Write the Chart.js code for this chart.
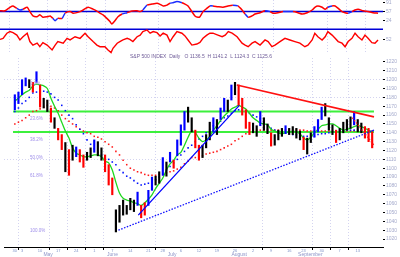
<!DOCTYPE html>
<html>
<head>
<meta charset="utf-8">
<script src="https://cdn.jsdelivr.net/npm/chart.js@4.4.0/dist/chart.umd.min.js"></script>
<style>
  html, body { margin:0; padding:0; background:#fff; overflow:hidden; }
  #wrap { position:relative; width:400px; height:257px; }
  canvas { position:absolute; left:0; }
  #c1 { top:0; } #c2 { top:27px; } #c3 { top:54px; }
</style>
</head>
<body>
<div id="wrap">
  <canvas id="c1" width="400" height="27"></canvas>
  <canvas id="c2" width="400" height="27"></canvas>
  <canvas id="c3" width="400" height="203"></canvas>
</div>
<script>
// ------- price bars (one per trading day)
const barHigh = [1183,1186,1200,1202,1200,1197,1209,1194,1179,1177,
  1168,1157,1145,1138,1129,1121,1126,1124,1121,1115,
  1118,1123,1132,1130,1123,1115,1104,1089,1053,1058,
  1064,1058,1066,1064,1073,1058,1061,1075,1090,1091,
  1096,1112,1107,1118,1109,1132,1149,1164,1169,1157,
  1143,1126,1126,1138,1152,1157,1155,1168,1179,1177,
  1194,1197,1194,1179,1166,1152,1151,1148,1164,1157,
  1150,1140,1138,1143,1145,1148,1145,1147,1145,1142,
  1135,1134,1140,1147,1155,1169,1173,1157,1149,1143,
  1145,1152,1155,1158,1164,1155,1151,1147,1145,1141];
const barLow = [1166,1173,1183,1193,1191,1186,1197,1169,1168,1164,
  1152,1145,1132,1121,1096,1092,1109,1113,1107,1101,
  1109,1112,1118,1114,1109,1096,1081,1070,1028,1039,
  1047,1048,1053,1051,1058,1044,1047,1058,1075,1081,
  1083,1092,1091,1107,1100,1114,1126,1143,1152,1141,
  1123,1109,1112,1123,1132,1141,1138,1155,1164,1164,
  1177,1183,1171,1160,1145,1138,1140,1136,1148,1143,
  1139,1125,1126,1132,1136,1139,1138,1138,1134,1132,
  1121,1116,1129,1135,1141,1155,1159,1143,1138,1129,
  1132,1140,1143,1145,1149,1141,1140,1134,1130,1123];
// u = up (blue), d = down (red), n = neutral (black)
const barDir = ('uuuundudnn' + 'dnddndnudd' + 'nnunndddnn' + 'nnnnudduun' + 'nunuduuunn' +
  'ddnnnunuun' + 'unddddnnun' + 'ndnnnunnnn' + 'dnnuuunnnd' + 'nnnnunnddd').split('');

// moving averages
const maGreen = [1176,1179,1183,1186,1188,1193,1195,1194,1193,1190,
  1179,1170,1162,1152,1142,1134,1123,1117,1115,1113,
  1113,1114,1115,1115,1113,1108,1106,1098,1084,1072,
  1066,1064,1063,1061,1060,1058,1061,1065,1070,1077,
  1083,1089,1098,1105,1109,1115,1118,1126,1135,1142,
  1140,1134,1130,1132,1136,1143,1148,1154,1159,1163,
  1167,1169,1171,1169,1167,1162,1157,1154,1151,1150,
  1149,1144,1142,1140,1139,1140,1141,1142,1141,1139,
  1134,1132,1135,1140,1144,1148,1149,1150,1150,1148,
  1145,1143,1144,1145,1147,1148,1147,1145,1143,1141];
const maBlue = [1164,1168,1173,1176,1180,1185,1186,1187,1187,1186,
  1184,1180,1177,1171,1165,1160,1156,1149,1144,1139,
  1132,1127,1122,1118,1115,1113,1110,1107,1104,1098,
  1095,1091,1089,1086,1083,1081,1082,1083,1084,1087,
  1090,1093,1098,1102,1106,1110,1115,1119,1123,1126,
  1130,1133,1136,1140,1144,1148,1150,1153,1157,1159,
  1162,1165,1166,1166,1165,1162,1160,1158,1156,1152,
  1149,1145,1143,1142,1141,1140,1139,1138,1138,1138,
  1136,1136,1136,1136,1138,1139,1139,1140,1141,1142,
  1143,1143,1143,1143,1143,1143,1142,1142,1142,1142];
const maRed = [1150,1152,1154,1157,1160,1164,1165,1167,1169,1171,
  1170,1168,1165,1160,1156,1153,1150,1147,1144,1142,
  1140,1139,1136,1135,1133,1130,1127,1124,1119,1115,
  1109,1104,1100,1098,1096,1095,1093,1092,1092,1092,
  1093,1093,1095,1096,1097,1099,1101,1105,1108,1112,
  1112,1113,1114,1116,1117,1118,1119,1121,1123,1125,
  1127,1131,1133,1136,1139,1141,1142,1143,1143,1143,
  1143,1143,1143,1143,1143,1143,1143,1143,1143,1143,
  1143,1142,1142,1142,1142,1142,1142,1142,1142,1142,
  1142,1142,1142,1142,1142,1142,1142,1142,1142,1142];

// trend lines (day, price)
const trendRedX = [61.5, 99.5],  trendRedY = [1194, 1158];
const trendBlueX = [34.2, 62.2], trendBlueY = [1047, 1171];
const supportX = [28.7, 99.5],   supportY = [1030, 1143];
const chanRedX = [93.5, 99.5],   chanRedY = [1157, 1126];
const levels = [1164, 1141];

// fib labels
const fibPrices = [1195, 1156, 1132, 1112, 1092, 1029];
const fibLabels = ['0.0%', '23.6%', '38.2%', '50.0%', '61.8%', '100.0%'];

// axes
const priceTicks = [1020,1030,1040,1050,1060,1070,1080,1090,1100,1110,1120,1130,1140,1150,1160,1170,1180,1190,1200,1210,1220];
const priceGrid = [1200, 1180, 1110];
const weekTicks = [0,2,7,12,17,22,27,32,37,41,46,51,56,61,66,71,76,80,85,90,95];
const weekLabels = ['30','3','10','17','24','1','7','14','21','28','6','12','19','26','2','9','16','23','30','7','13'];
const gridDays = [2,12,17,22,27,41,71,85,90,95];
const monthStarts = [0, 21, 41, 62, 84];
const monthNames = ['May', 'June', 'July', 'August', 'September'];
const titleText = 'S&P 500 INDEX  Daily   O 1136.5  H 1141.2  L 1124.3  C 1125.6';

// oscillator 1 (upper panel)
const osc1Days = [-0.5,0.8,2.1,2.9,3.9,4.7,5.5,6.6,7.3,8.1,9.2,9.9,10.7,11.8,12.6,13.3,13.9,14.6,15.7,16.5,
  17.8,18.6,20.4,21.2,22.5,23.8,24.8,25.6,26.4,27.4,28.2,28.7,29.5,30.3,31.4,32.7,34,35.3,36.1,36.8,
  37.9,39.2,40.5,41.3,42.1,43.1,43.9,44.7,45.7,47,47.8,48.6,49.6,50.4,51.2,51.7,52.5,53.5,54.3,55.1,
  56.4,57.7,59,60.3,61.6,62.7,63.5,64.3,65.3,66.1,67.4,68.7,70,70.8,72.1,73.4,74.7,76,77.3,78.4,
  79.7,81,81.7,82.5,83.6,84.4,85.1,86.2,87,87.8,88.8,89.6,90.4,91.4,92.2,93,94.3,95.6,96.9,98.2];
const osc1Vals = [60,60,73,78,69,63,66,73,57,41,38,45,36,38,41,32,23,32,32,51,
  57,51,57,63,73,66,59,51,45,32,20,11,23,38,48,53,59,60,57,63,
  81,85,88,84,78,81,88,90,94,90,85,78,57,41,36,38,57,69,78,78,
  75,73,78,81,78,63,48,36,41,48,53,60,57,51,53,57,57,57,53,48,
  53,63,73,78,73,66,73,78,78,69,57,53,51,57,63,66,60,57,53,51];
const osc1BlueSegs = [4,5,15,16,18,34,39,46,47,48,58,63,66,71,75,76,86,92];
const osc1Level = 57;
const osc1Ticks = [91, 57, 24];

// oscillator 2 (second panel)
const osc2Days = [-0.5,0.3,1.3,2.1,2.9,3.9,4.7,5.5,6.6,7.3,8.1,9.2,9.9,10.7,11.8,13.1,13.9,14.6,16,17,
  17.8,19.1,20.4,21.7,22.5,23.8,24.8,25.6,26.9,27.7,28.5,29,30.1,30.8,31.6,32.7,33.4,34.2,35.3,36.1,
  36.8,37.9,38.7,39.5,40.5,41.3,42.1,43.1,43.9,44.7,45.7,47,47.8,48.6,49.6,50.9,51.7,52.5,53.5,54.3,
  55.1,56.4,57.5,58.3,59.1,60.1,61.4,62.7,63.5,64.3,65.3,66.1,67.4,68.7,69.5,70.5,71.3,72.6,73.9,75.2,
  76.5,77.8,79.1,79.9,81,81.7,82.5,83.6,84.4,85.1,86.2,87,87.8,88.8,89.6,90.4,91.4,92.2,93,94,
  94.8,95.6,96.6,97.4,98.2];
const osc2Vals = [54,58,77,83,79,70,52,64,77,46,33,40,27,42,33,15,33,46,40,58,
  52,64,58,77,64,46,33,27,27,15,5,21,40,46,52,58,54,46,64,70,
  83,89,77,83,79,67,77,70,46,64,83,77,67,52,33,37,43,58,70,77,
  77,70,64,70,83,77,64,40,33,27,40,46,33,52,46,27,33,46,58,52,
  46,40,27,33,52,77,64,52,64,83,70,58,46,40,27,46,58,77,64,52,
  70,58,42,40,52];
const osc2Level = 92;
const osc2Ticks = [52];

// ------- helpers
Chart.defaults.font.family = '"Liberation Sans", Arial, sans-serif';
const GRID = '#d4d4f0';
const NONE = 'rgba(0,0,0,0)';
const LABEL = '#a4aacc';
const dirColor = { u:'#0000ff', d:'#ff0000', n:'#000000' };
const pts = (xs, ys) => xs.map((x, i) => ({ x, y: ys[i] }));
const span = v => [{ x:-0.5, y:v }, { x:99.5, y:v }];

function panelX() {
  return {
    type:'linear', min:-0.5, max:99.5,
    afterBuildTicks: s => { s.ticks = gridDays.map(v => ({ value:v })); },
    ticks:{ display:false },
    grid:{ color:GRID, drawTicks:false },
    border:{ display:false, dash:[1,2] },
    afterFit: s => { s.height = 0; s.paddingLeft = 0; s.paddingRight = 0; }
  };
}
function panelY(ticks) {
  return {
    position:'right', min:0, max:100,
    afterBuildTicks: s => { s.ticks = ticks.map(v => ({ value:v })); },
    ticks:{ font:{ size:5 }, color:LABEL, padding:1, callback: v => String(v) },
    grid:{ drawOnChartArea:false, tickColor:'#000', tickLength:2 },
    border:{ display:false },
    afterFit: s => { s.width = 17; s.paddingTop = 0; s.paddingBottom = 0; }
  };
}
const baseOpts = {
  responsive:false, animation:false, devicePixelRatio:1,
  plugins:{ legend:{ display:false }, tooltip:{ enabled:false } }
};

// ------- panel 1
new Chart(document.getElementById('c1'), {
  type:'line',
  data:{ datasets:[
    { data: pts(osc1Days, osc1Vals), borderWidth:1.5, pointRadius:0, tension:0.2,
      borderColor:'#ff0000',
      segment:{ borderColor: c => osc1BlueSegs.includes(c.p0DataIndex) ? '#1a2cff' : '#ff0000' } },
    { data: span(osc1Level), borderColor:'#0000d8', borderWidth:1.5, pointRadius:0 }
  ]},
  options:{ ...baseOpts, layout:{ padding:0 }, scales:{ x: panelX(), y: panelY(osc1Ticks) } }
});

// ------- panel 2
new Chart(document.getElementById('c2'), {
  type:'line',
  data:{ datasets:[
    { data: pts(osc2Days, osc2Vals), borderColor:'#ff0000', borderWidth:1.4, pointRadius:0 },
    { data: span(osc2Level), borderColor:'#0000d8', borderWidth:1.5, pointRadius:0 }
  ]},
  options:{ ...baseOpts, layout:{ padding:0 }, scales:{ x: panelX(), y: panelY(osc2Ticks) } }
});

// ------- main price panel
const textPlugin = {
  id:'texts',
  afterDraw(chart) {
    const { ctx, chartArea, scales:{ y } } = chart;
    ctx.save();
    ctx.textBaseline = 'middle';
    ctx.font = '5px "Liberation Sans"';
    ctx.fillStyle = '#6f5c98';
    ctx.fillText(titleText, 130, chartArea.top - 1);
    ctx.font = '4.5px "Liberation Sans"';
    ctx.fillStyle = '#a090ea';
    fibPrices.forEach((p, i) => ctx.fillText(fibLabels[i], 30, y.getPixelForValue(p)));
    ctx.restore();
  }
};

const dots = (vals, color) => ({
  type:'line', data: vals.map((v, i) => ({ x:i, y:v })), showLine:false,
  pointStyle:'rect', pointRadius:1.1, pointBorderWidth:0, pointBackgroundColor:color, order:4
});
const seg = (xs, ys, color, width, dash) => ({
  type:'line', data: pts(xs, ys), borderColor:color, borderWidth:width,
  borderDash: dash || [], pointRadius:0, order:0
});

new Chart(document.getElementById('c3'), {
  type:'bar',
  data:{ datasets:[
    seg(trendRedX, trendRedY, '#ff1010', 1.6),
    seg(trendBlueX, trendBlueY, '#0000ff', 1.3),
    seg(supportX, supportY, '#1010ff', 1.3, [1.5, 1.5]),
    seg(chanRedX, chanRedY, '#ff2020', 1.3, [1.5, 1.5]),
    { type:'bar', data: barHigh.map((h, i) => ({ x:i, y:[barLow[i], h] })),
      backgroundColor: barDir.map(d => dirColor[d]), barThickness:1.5, order:1 },
    { type:'line', data: maGreen.map((v, i) => ({ x:i, y:v })), borderColor:'#1ed81e',
      borderWidth:1.3, pointRadius:0, tension:0.3, order:2 },
    dots(maBlue, '#0010ff'),
    dots(maRed, '#ff1a1a'),
    { type:'line', data: span(levels[0]), borderColor:'#3cf03c', borderWidth:2, pointRadius:0, order:5 },
    { type:'line', data: span(levels[1]), borderColor:'#3cf03c', borderWidth:2, pointRadius:0, order:5 }
  ]},
  options:{
    ...baseOpts,
    layout:{ padding:{ top:4, left:0, right:0, bottom:0 } },
    scales:{
      x:{
        type:'linear', min:-0.5, max:99.5, position:'bottom', weight:0,
        afterBuildTicks: s => { s.ticks = weekTicks.map(v => ({ value:v })); },
        ticks:{ font:{ size:4 }, color:'#7f93c8', padding:-2, maxRotation:0, autoSkip:false,
                callback:(v, i) => weekLabels[i] },
        grid:{ color: c => c.tick && gridDays.includes(c.tick.value) ? GRID : NONE,
               tickColor: c => c.tick && gridDays.includes(c.tick.value) ? '#000' : NONE,
               tickLength:3 },
        border:{ color:'#000', width:1, dash:[1,2] },
        afterFit: s => { s.height = 5; s.paddingLeft = 0; s.paddingRight = 0; }
      },
      xm:{
        type:'linear', min:-0.5, max:99.5, position:'bottom', weight:1,
        afterBuildTicks: s => { s.ticks = monthStarts.map(v => ({ value:v })); },
        ticks:{ font:{ size:5 }, color:'#8d94c8', padding:0, align:'start', maxRotation:0,
                autoSkip:false, callback:(v, i) => monthNames[i] },
        grid:{ display:false, drawTicks:false },
        border:{ display:false },
        afterFit: s => { s.height = 5; s.paddingLeft = 0; s.paddingRight = 0; }
      },
      y:{
        position:'right', min:1011, max:1224.5,
        afterBuildTicks: s => { s.ticks = priceTicks.map(v => ({ value:v })); },
        ticks:{ font:{ size:5 }, color:LABEL, padding:1, callback: v => String(v) },
        grid:{ color: c => c.tick && priceGrid.includes(c.tick.value) ? GRID : NONE,
               tickColor:'#000', tickLength:2 },
        border:{ display:false, dash:[1,2] },
        afterFit: s => { s.width = 17; s.paddingTop = 0; s.paddingBottom = 0; }
      }
    }
  },
  plugins:[textPlugin]
});
</script>
</body>
</html>
